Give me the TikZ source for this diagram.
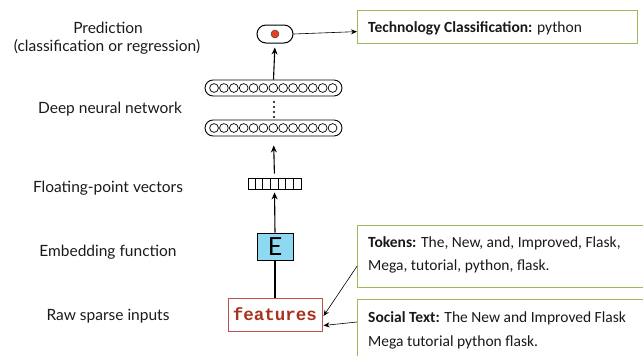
\documentclass[tikz,border=0pt]{standalone}
\usepackage{fontspec}
\setmainfont{Carlito}
\newfontfamily\gill{Lato}
\newfontfamily\mono{Liberation Mono}
\usetikzlibrary{calc,arrows.meta}
\definecolor{boxgreen}{HTML}{9BBB59}
\definecolor{featred}{HTML}{C0504D}
\definecolor{feattext}{HTML}{A8321E}
\definecolor{eblue}{HTML}{8ED8F2}
\definecolor{dotred}{HTML}{E8401C}
\definecolor{lbltext}{HTML}{1A1A1A}
\begin{document}
\begin{tikzpicture}[x=1pt,y=-1pt,
 lbl/.style={font=\gill\fontsize{15.5}{17}\selectfont, text=lbltext, anchor=base, inner sep=0},
 gbox/.style={draw=boxgreen, line width=1.2pt, anchor=north west, inner sep=0},
 btxt/.style={font=\fontsize{15.5}{17}\selectfont, anchor=base west, inner sep=0, text=black!90},
 arr/.style={-{Stealth[length=7pt,width=6pt]}, line width=1.1pt},
 tarr/.style={-{Stealth[length=6pt,width=5pt]}, line width=0.6pt},
 layer/.style={draw, line width=0.9pt, rounded corners=8pt, minimum width=137pt, minimum height=16pt, inner sep=0}
]
\useasboundingbox (0,0) rectangle (643,356);
\clip (0,0) rectangle (643,356);

% left labels
\node[lbl] (lp1) at (108,33) {Prediction};
\node[lbl] (lp2) at (107,51) {(classification or regression)};
\node[lbl] (ldnn) at (110,113) {Deep neural network};
\node[lbl] (lfp) at (108,192) {Floating-point vectors};
\node[lbl] (lemb) at (108,256) {Embedding function};
\node[lbl] (lraw) at (108,320) {Raw sparse inputs};

% output pill
\node[draw, rounded corners=9pt, minimum width=36pt, minimum height=18pt, inner sep=0, line width=1pt] (out) at (275,34) {};
\node[circle, fill=dotred, draw=black!70, line width=0.5pt, minimum size=8pt, inner sep=0] (dot) at (out.center) {};

% layers
\node[layer] (l1) at (273.5,88) {};
\node[layer] (l2) at (273.5,128) {};
\foreach \i in {0,...,12} {
  \draw[line width=0.7pt] ($(l1.west)+(9.5+\i*9.875,0)$) circle (4.4);
  \draw[line width=0.7pt] ($(l2.west)+(9.5+\i*9.875,0)$) circle (4.4);
}
\foreach \y in {102,107,112,117} \fill (274,\y) circle (1.2);

% vector
\node[draw, minimum width=53pt, minimum height=11pt, inner sep=0, line width=0.8pt] (vec) at (274.5,183.5) {};
\foreach \i in {1,...,6} \draw[line width=0.7pt] ($(vec.north west)+(\i*53/7,0)$) -- ++(0,11);

% embedding
\node[draw, fill=eblue, minimum width=36pt, minimum height=27pt, inner sep=0, line width=0.9pt, font=\gill\fontsize{25}{27}\selectfont] (E) at (275,246.5) {E};

% features
\node[draw=featred, line width=1pt, minimum width=94pt, minimum height=33pt, inner sep=0, font=\mono\bfseries\fontsize{17.5}{19}\selectfont, text=feattext] (feat) at (275,314.5) {features};

% boxes
\node[gbox, minimum width=280pt, minimum height=33pt] (tech) at (357,10) {};
\node[btxt] (techtxt) at (368,32) {\textbf{Technology Classification:} python};
\node[gbox, minimum width=300pt, minimum height=62pt] (tok) at (357,225) {};
\node[btxt] (tok1) at (368,247) {\textbf{Tokens:} The, New, and, Improved, Flask,};
\node[btxt] (tok2) at (368,270) {Mega, tutorial, python, flask.};
\node[gbox, minimum width=300pt, minimum height=70pt] (soc) at (357,299) {};
\node[btxt] (soc1) at (368,322) {\textbf{Social Text:} The New and Improved Flask};
\node[btxt] (soc2) at (368,346) {Mega tutorial python flask.};

% connectors
\draw[arr, shorten >=4pt] (l1.north) -- (out.south);
\draw[arr, shorten <=4pt, shorten >=9pt] (vec.north) -- (l2.south);
\draw[arr, shorten >=3pt] (E.north) -- (vec.south);
\draw[line width=1.1pt] (feat.north) -- (E.south);
\draw[tarr] (out.east) -- ($(tech.west)+(0,4.5)$);
\draw[tarr] ($(tok.south west)+(0,-22)$) -- ($(feat.east)+(1,1.5)$);
\draw[tarr] ($(soc.north west)+(0,23)$) -- ($(feat.south east)+(1,-6)$);
\end{tikzpicture}
\end{document}
